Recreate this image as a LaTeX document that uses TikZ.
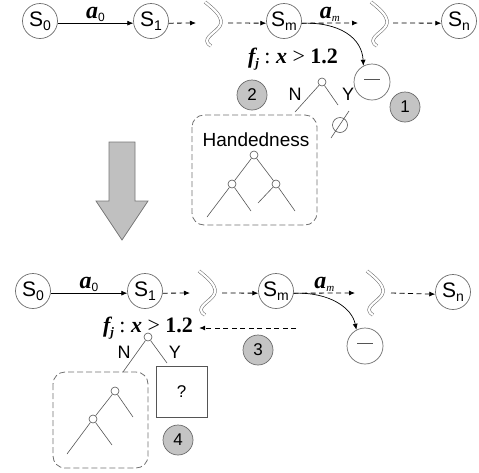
\documentclass[tikz,border=0pt]{standalone}
\usepackage{fontspec}
\setmainfont{Liberation Sans}
\newfontfamily\serifm{Liberation Serif}
\usetikzlibrary{arrows.meta}

\definecolor{circgray}{HTML}{6E6E6E}
\definecolor{treegray}{HTML}{555555}
\definecolor{numfill}{HTML}{C4C4C4}
\definecolor{numedge}{HTML}{6A6A6A}
\definecolor{arrowfill}{HTML}{C0C0C0}
\definecolor{arrowedge}{HTML}{777777}
\definecolor{boxgray}{HTML}{707070}
\definecolor{wavegray}{HTML}{707070}

% state label S with a small subscript
\newcommand\stlab[1]{S\raisebox{-3.5pt}{\fontsize{14}{14}\selectfont #1}}
% action labels
\newcommand\azero{{\serifm\fontsize{24}{24}\selectfont\bfseries\itshape a}\raisebox{-3pt}{\fontsize{12}{12}\selectfont 0}}
\newcommand\aem{{\serifm\fontsize{24}{24}\selectfont\bfseries\itshape a}\raisebox{-3pt}{\serifm\itshape\fontsize{11}{11}\selectfont m}}
% split condition label
\newcommand\fjlab{{\serifm\fontsize{22}{22}\selectfont\bfseries\itshape f\raisebox{-4pt}{\fontsize{13}{13}\selectfont j}\mdseries\upshape\ :\ \bfseries\itshape x\mdseries\upshape\ >\ \bfseries 1.2}}
\newcommand\minusbar{\textcolor{treegray}{\rule[5pt]{16pt}{0.7pt}}}

\begin{document}
\begin{tikzpicture}[x=1pt,y=-1pt,
  state/.style={circle, draw=circgray, fill=white, line width=0.7pt,
    minimum size=35pt, inner sep=0pt, font=\fontsize{21}{21}\selectfont},
  endstate/.style={circle, draw=circgray, fill=white, line width=0.7pt,
    minimum size=36pt, inner sep=0pt},
  numc/.style={circle, draw=numedge, fill=numfill, line width=0.7pt,
    minimum size=30pt, inner sep=0pt, font=\fontsize{17}{17}\selectfont},
  tnode/.style={circle, draw=treegray, fill=white, minimum size=8pt,
    inner sep=0pt, line width=0.6pt},
  tline/.style={draw=treegray, line width=0.6pt},
  txt/.style={inner sep=0pt, font=\fontsize{18}{18}\selectfont},
  solidarr/.style={draw=black, line width=0.7pt, -{Latex[length=6pt,width=5pt]}},
  dasharr/.style={draw=black, line width=0.8pt, dash pattern=on 5pt off 3.5pt,
    -{Latex[length=6pt,width=5pt]}},
  dbox/.style={draw=boxgray, line width=0.8pt, dash pattern=on 6pt off 3pt,
    rounded corners=12pt},
  brk/.pic={\draw[draw=wavegray, line width=0.55pt, double=white,
      double distance=2.2pt]
      (-7,-21) .. controls (-1,-16) and (10,-8) .. (9,0)
      .. controls (8,7) and (-5,12) .. (-5,18)
      .. controls (-5,20) and (-3,22) .. (-1,23);}
]
\useasboundingbox (0,0) rectangle (479,472);

% ---------- upper episode ----------
\node[state] (S0a) at (40,21) {\stlab{0}};
\node[state] (S1a) at (151,21) {\stlab{1}};
\node[state] (Sma) at (284,21) {\stlab{m}};
\node[state] (Sna) at (459,21) {\stlab{n}};
\pic at (212,23) {brk};
\pic at (378,23) {brk};
\coordinate (b1ain) at (196,23);
\coordinate (b1aout) at (228,23);
\coordinate (b2ain) at (358,23);
\coordinate (b2aout) at (393,23);

\draw[solidarr] (S0a.-7) -- node[above=1pt, inner sep=0pt] {\azero} (S1a.187);
\draw[dasharr] (S1a.-7) -- (b1ain);
\draw[dasharr] (b1aout) -- (Sma.187);
\draw[dasharr] (Sma.-7) -- node[above=1pt, inner sep=0pt] {\aem} (b2ain);
\draw[dasharr] (b2aout) -- (Sna.187);

\node[endstate] (ma) at (372,82) {\minusbar};
\draw[solidarr] (Sma.-7) .. controls (340,22) and (362,38) .. (ma.118);
\node[numc] (n1) at (405,107) {1};

\node[inner sep=0pt] (fja) at (293,59) {\fjlab};
\node[tnode] (ra) at (322,82) {};
\coordinate (ral) at (295,112);
\coordinate (rar) at (338,105);
\draw[tline] (ra) -- (ral);
\draw[tline] (ra) -- (rar);
\node[txt] (Na) at (295,94) {N};
\node[txt] (Ya) at (348,94) {Y};
% empty-set leaf
\draw[tline] (340,125) circle (7.5);
\draw[tline] (331,138) -- (349,111);

\node[numc] (n2) at (252,95) {2};

\draw[dbox] (192,115) rectangle (317,225);
\node[txt, font=\fontsize{19}{19}\selectfont] (hand) at (256,140) {Handedness};
\node[tnode] (h0) at (254,155) {};
\node[tnode] (h1) at (232,184) {};
\node[tnode] (h2) at (276,184) {};
\coordinate (h11) at (207,217);
\coordinate (h12) at (251,211);
\coordinate (h21) at (258,203);
\coordinate (h22) at (295,211);
\draw[tline] (h0) -- (h1);
\draw[tline] (h0) -- (h2);
\draw[tline] (h1) -- (h11);
\draw[tline] (h1) -- (h12);
\draw[tline] (h2) -- (h21);
\draw[tline] (h2) -- (h22);

% ---------- transition arrow ----------
\draw[draw=arrowedge, fill=arrowfill, line width=0.8pt]
  (109,142) -- (135,142) -- (135,201) -- (148,201) -- (122,240)
  -- (96,201) -- (109,201) -- cycle;

% ---------- lower episode ----------
\node[state] (S0b) at (33,291) {\stlab{0}};
\node[state] (S1b) at (145,291) {\stlab{1}};
\node[state] (Smb) at (276,291) {\stlab{m}};
\node[state] (Snb) at (453,292) {\stlab{n}};
\pic at (206,292) {brk};
\pic at (374,292) {brk};
\coordinate (b1bin) at (190,293);
\coordinate (b1bout) at (222,293);
\coordinate (b2bin) at (355,293);
\coordinate (b2bout) at (391,293);

\draw[solidarr] (S0b.-7) -- node[above=1pt, inner sep=0pt] {\azero} (S1b.187);
\draw[dasharr] (S1b.-7) -- (b1bin);
\draw[dasharr] (b1bout) -- (Smb.187);
\draw[dasharr] (Smb.-7) -- node[above=1pt, inner sep=0pt] {\aem} (b2bin);
\draw[dasharr] (b2bout) -- (Snb.187);

\node[endstate] (mb) at (365,346) {\minusbar};
\draw[solidarr] (Smb.-7) .. controls (330,292) and (352,308) .. (mb.118);

\node[inner sep=0pt] (fjb) at (148,328) {\fjlab};
\coordinate (a3start) at (296,328);
\draw[dasharr] (a3start) -- ([xshift=6pt]fjb.east |- a3start);
\node[numc] (n3) at (258,350) {3};

\node[tnode] (rb) at (148,337) {};
\coordinate (rbl) at (123,372);
\coordinate (rbr) at (167,363);
\draw[tline] (rb) -- (rbl);
\draw[tline] (rb) -- (rbr);
\node[txt] (Nb) at (124,352) {N};
\node[txt] (Yb) at (175,352) {Y};
\node[draw=treegray, line width=0.7pt, minimum width=51pt, minimum height=51pt,
  inner sep=0pt, font=\fontsize{17}{17}\selectfont] (qbox) at (181.5,391.5) {?};

\draw[dbox] (53,372) rectangle (148,468);
\node[tnode] (g0) at (115,391) {};
\node[tnode] (g1) at (93,419) {};
\coordinate (g2) at (133,417);
\coordinate (g11) at (67,454);
\coordinate (g12) at (112,445);
\draw[tline] (g0) -- (g1);
\draw[tline] (g0) -- (g2);
\draw[tline] (g1) -- (g11);
\draw[tline] (g1) -- (g12);

\node[numc] (n4) at (178,440) {4};
\end{tikzpicture}
\end{document}
